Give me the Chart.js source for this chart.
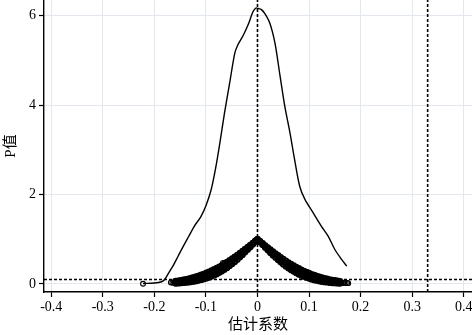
<!DOCTYPE html>
<html><head><meta charset="utf-8">
<script src="https://cdn.jsdelivr.net/npm/chart.js@4"></script>
<style>html,body{margin:0;padding:0;background:#fff}#wrap{width:472px;height:335px}</style>
</head><body><div id="wrap"><canvas id="c" width="472" height="335"></canvas></div>
<script>
// Density curve of estimated coefficients
const densityCoef = [-0.222,-0.200,-0.186,-0.180,-0.172,-0.164,-0.154,-0.144,-0.134,-0.122,-0.110,-0.100,-0.090,-0.081,-0.073,-0.064,-0.054,-0.044,-0.038,-0.028,-0.018,-0.009,-0.003,0.001,0.007,0.014,0.024,0.034,0.043,0.053,0.063,0.072,0.082,0.092,0.108,0.124,0.137,0.150,0.163,0.173];
const densityVal  = [0.01,0.02,0.05,0.10,0.25,0.40,0.62,0.84,1.05,1.30,1.50,1.75,2.10,2.60,3.15,3.82,4.49,5.16,5.35,5.55,5.80,6.08,6.17,6.16,6.14,6.05,5.83,5.38,4.71,3.97,3.38,2.78,2.18,1.89,1.59,1.29,1.07,0.77,0.55,0.40];

// P-value band of the scatter (lower / middle / upper edge of the band)
const bandCoef = [-0.159,-0.154,-0.149,-0.144,-0.139,-0.134,-0.129,-0.124,-0.119,-0.114,-0.109,-0.104,-0.099,-0.094,-0.089,-0.084,-0.079,-0.074,-0.069,-0.064,-0.059,-0.054,-0.049,-0.044,-0.039,-0.034,-0.029,-0.024,-0.019,-0.014,-0.009,-0.004,
  0.000,
  0.005,0.010,0.015,0.020,0.025,0.030,0.035,0.040,0.045,0.050,0.055,0.060,0.065,0.070,0.075,0.080,0.085,0.090,0.095,0.100,0.105,0.110,0.115,0.120,0.125,0.130,0.135,0.140,0.145,0.150,0.155,0.160];
const bandLow  = [.015,.018,.022,.027,.032,.039,.047,.056,.067,.080,.094,.111,.129,.149,.172,.197,.225,.256,.289,.325,.364,.407,.452,.499,.549,.601,.655,.712,.770,.829,.890,.951,
  .990,
  .939,.878,.817,.758,.700,.644,.591,.539,.489,.443,.398,.356,.317,.282,.249,.219,.191,.167,.145,.125,.107,.091,.077,.065,.054,.046,.038,.031,.026,.021,.017,.014];
const bandMid  = [.034,.040,.047,.055,.064,.074,.086,.099,.113,.129,.147,.166,.187,.211,.236,.263,.292,.323,.357,.393,.432,.472,.513,.558,.604,.650,.698,.749,.799,.851,.904,.957,
  .995,
  .947,.893,.841,.789,.739,.689,.641,.595,.549,.505,.464,.424,.386,.351,.317,.286,.257,.230,.206,.183,.162,.143,.126,.110,.096,.083,.072,.062,.053,.046,.039,.033];
const bandHigh = [.061,.070,.080,.091,.103,.116,.130,.146,.163,.181,.201,.222,.246,.270,.296,.324,.354,.385,.418,.452,.488,.526,.565,.605,.646,.688,.732,.777,.822,.868,.915,.962,
  1.000,
  .953,.906,.860,.814,.769,.724,.680,.638,.597,.557,.518,.480,.445,.411,.378,.347,.317,.290,.264,.240,.217,.196,.177,.159,.142,.127,.113,.100,.088,.078,.068,.060];

// Isolated scatter points in the tails
const extraCoef = [-0.222,-0.168,-0.165,-0.162,-0.067,0.163,0.166,0.168,0.171,0.174,0.176];
const extraP    = [0.004,0.035,0.028,0.032,0.47,0.025,0.022,0.030,0.020,0.024,0.018];

// Reference lines
const refCoefLines = [0, 0.33];
const refPLine = 0.1;

// Axes
const xTickValues = [-0.4,-0.3,-0.2,-0.1,0,0.1,0.2,0.3,0.4];
const xTickLabels = ['-0.4','-0.3','-0.2','-0.1','0','0.1','0.2','0.3','0.4'];
const yTickValues = [0,2,4,6];
const yTickLabels = ['0','2','4','6'];
const xMin = -0.414, xMax = 0.416, yMin = -0.18, yMax = 6.35;
const xTitle = '估计系数', yTitle = 'P值';

const bandPts = [];
bandCoef.forEach((c,i)=>{
  bandPts.push({x:c,y:bandLow[i]});
  bandPts.push({x:c,y:bandMid[i]});
  bandPts.push({x:c,y:bandHigh[i]});
});
const extraPts = extraCoef.map((c,i)=>({x:c,y:extraP[i]}));

const dash = {borderColor:'#000',borderWidth:1.6,borderDash:[3,2],pointRadius:0,fill:false,tension:0,type:'line'};
const datasets = [
  Object.assign({data:[{x:xMin,y:refPLine},{x:xMax,y:refPLine}]},dash),
  ...refCoefLines.map(v=>Object.assign({data:[{x:v,y:yMin},{x:v,y:yMax}]},dash)),
  {type:'scatter',data:bandPts,pointRadius:2.4,pointBorderWidth:1.9,pointBorderColor:'#000',pointBackgroundColor:'rgba(0,0,0,0)',showLine:false},
  {type:'scatter',data:extraPts,pointRadius:2.4,pointBorderWidth:1.1,pointBorderColor:'#000',pointBackgroundColor:'rgba(0,0,0,0)',showLine:false},
  {type:'line',data:densityCoef.map((c,i)=>({x:c,y:densityVal[i]})),borderColor:'#000',borderWidth:1.4,pointRadius:0,tension:0.3,fill:false}
];

const font = {family:"'Liberation Serif','Times New Roman',serif",size:14};
const cjkFont = {family:"'Liberation Serif','Noto Sans CJK SC',serif",size:15};
new Chart(document.getElementById('c'),{
  data:{datasets},
  options:{
    responsive:false,animation:false,
    layout:{padding:0,autoPadding:false},
    plugins:{legend:{display:false},tooltip:{enabled:false}},
    scales:{
      x:{type:'linear',min:xMin,max:xMax,
        afterBuildTicks:s=>{s.ticks=xTickValues.map(v=>({value:v}));},
        afterFit:s=>{s.height=43;s.paddingLeft=0;s.paddingRight=0;},
        ticks:{color:'#000',font,padding:2,maxRotation:0,autoSkip:false,
          callback:(v)=>{const i=xTickValues.findIndex(t=>Math.abs(t-v)<1e-9);return i>=0?xTickLabels[i]:'';}},
        grid:{color:'#e3e7ee',lineWidth:1,tickColor:'#000',tickLength:5,tickWidth:1.2},
        border:{display:true,color:'#000',width:1.4},
        title:{display:true,text:xTitle,color:'#000',font:cjkFont,padding:{top:0,bottom:1}}
      },
      y:{type:'linear',min:yMin,max:yMax,
        afterBuildTicks:s=>{s.ticks=yTickValues.map(v=>({value:v}));},
        afterFit:s=>{s.width=44;s.paddingTop=0;s.paddingBottom=0;},
        ticks:{color:'#000',font,padding:3,
          callback:(v)=>{const i=yTickValues.findIndex(t=>Math.abs(t-v)<1e-9);return i>=0?yTickLabels[i]:'';}},
        grid:{color:'#e3e7ee',lineWidth:1,tickColor:'#000',tickLength:5,tickWidth:1.2},
        border:{display:true,color:'#000',width:1.4},
        title:{display:true,text:yTitle,color:'#000',font:cjkFont,padding:{top:2,bottom:4}}
      }
    }
  }
});
</script></body></html>
